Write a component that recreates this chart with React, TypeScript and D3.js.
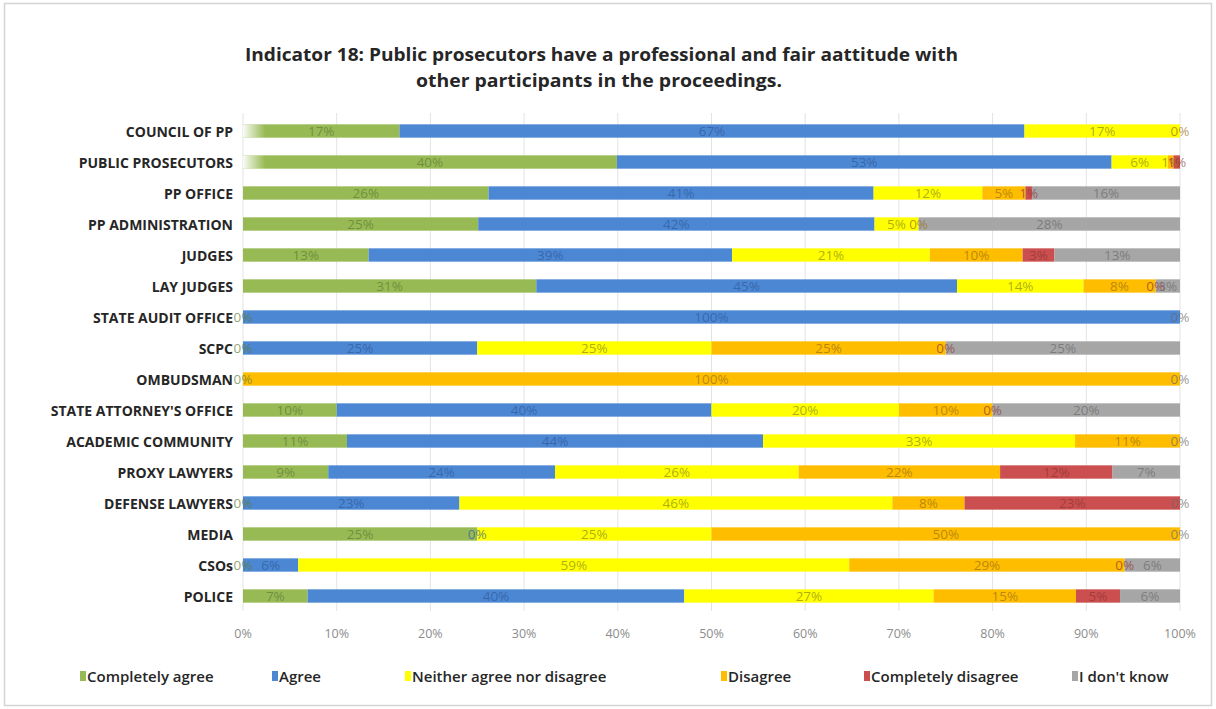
import React, { useEffect } from "react";
import * as d3 from "d3";

const categories = [
  "COUNCIL OF PP",
  "PUBLIC PROSECUTORS",
  "PP OFFICE",
  "PP ADMINISTRATION",
  "JUDGES",
  "LAY JUDGES",
  "STATE AUDIT OFFICE",
  "SCPC",
  "OMBUDSMAN",
  "STATE ATTORNEY'S OFFICE",
  "ACADEMIC COMMUNITY",
  "PROXY LAWYERS",
  "DEFENSE LAWYERS",
  "MEDIA",
  "CSOs",
  "POLICE",
];

const seriesNames = [
  "Completely agree",
  "Agree",
  "Neither agree nor disagree",
  "Disagree",
  "Completely disagree",
  "I don't know",
];

const completelyAgree = [16.7, 39.9, 26.2, 25.1, 13.4, 31.3, 0, 0, 0, 10, 11.1, 9.1, 0, 25, 0, 6.9];
const agree = [66.7, 52.8, 41.1, 42.3, 38.8, 44.9, 100, 25, null, 40, 44.4, 24.2, 23.1, 0, 5.9, 40.2];
const neither = [16.6, 6.0, 11.6, 4.7, 21.1, 13.5, null, 25, null, 20, 33.3, 26.0, 46.2, 25, 58.8, 26.6];
const disagree = [0, 0.6, 4.6, 0, 9.9, 7.7, null, 25, 100, 10, 11.2, 21.5, 7.7, 50, 29.4, 15.2];
const completelyDisagree = [null, 0.7, 0.7, null, 3.4, 0, null, 0, null, 0, null, 12.0, 23.0, null, 0, 4.7];
const dontKnow = [null, null, 15.8, 27.9, 13.4, 2.6, 0, 25, 0, 20, 0, 7.2, 0, 0, 5.9, 6.4];

const ticks = [0, 10, 20, 30, 40, 50, 60, 70, 80, 90, 100];

const titleLines = [
  "Indicator 18: Public prosecutors have a professional and fair aattitude with",
  "other participants in the proceedings.",
];

const colors = ["#98BA55", "#4C87D4", "#FFFF00", "#FFBD00", "#CB4F4F", "#A6A6A6"];
const labelColors = ["#5E7A33", "#2F5A97", "#8A8A1E", "#9A6F10", "#8E3434", "#6A6A6A"];

const allSeries = [completelyAgree, agree, neither, disagree, completelyDisagree, dontKnow];

const legendX = [80, 272, 405, 721, 864, 1072];

export default function App() {
  useEffect(() => {
    document.body.style.margin = "0";
  }, []);

  const W = 1216;
  const H = 709;
  const x = d3.scaleLinear().domain([0, 100]).range([243, 1180]);
  const y = d3
    .scaleBand<string>()
    .domain(categories)
    .range([115.5, 611.5])
    .paddingInner(0.57)
    .paddingOuter(0.285);

  const rows = categories.map((c, i) => {
    let acc = 0;
    return allSeries.map((s, k) => {
      const v = s[i];
      const x0 = acc;
      acc += v ?? 0;
      return { cat: c, k, v, x0, x1: acc };
    });
  });

  const font = "'Open Sans', Lato, sans-serif";

  return (
    <svg width={W} height={H} style={{ display: "block", background: "#fff" }}>
      <defs>
        <linearGradient id="fade" x1="0" x2="1" y1="0" y2="0">
          <stop offset="0" stopColor="#fff" stopOpacity="0.95" />
          <stop offset="1" stopColor="#fff" stopOpacity="0" />
        </linearGradient>
      </defs>
      <rect x={4.5} y={3.5} width={1207} height={702} fill="#fff" stroke="#d4d4d4" strokeWidth={1.5} />
      {titleLines.map((t, i) => (
        <text
          key={i}
          x={i === 0 ? 601.5 : 599}
          y={54 + i * 26}
          textAnchor="middle"
          dominantBaseline="central"
          fontFamily={font}
          fontWeight={700}
          fontSize={17.5}
          fill="#262626"
          textLength={i === 0 ? 713 : 366}
          lengthAdjust="spacingAndGlyphs"
        >
          {t}
        </text>
      ))}
      {ticks.map((t) => (
        <line key={t} x1={x(t)} x2={x(t)} y1={113} y2={611} stroke="#e3e3e3" strokeWidth={1} />
      ))}
      {rows.map((r) =>
        r.map((seg) =>
          seg.v != null && seg.v > 0 ? (
            <rect
              key={seg.cat + seg.k}
              x={x(seg.x0)}
              y={y(seg.cat)}
              width={x(seg.x1) - x(seg.x0)}
              height={y.bandwidth()}
              fill={colors[seg.k]}
            />
          ) : null
        )
      )}
      {categories.slice(0, 2).map((c) => (
        <rect key={"f" + c} x={x(0)} y={y(c)} width={22} height={y.bandwidth()} fill="url(#fade)" />
      ))}
      {rows.map((r) =>
        r.map((seg) =>
          seg.v != null ? (
            <text
              key={"l" + seg.cat + seg.k}
              x={x((seg.x0 + seg.x1) / 2)}
              y={(y(seg.cat) as number) + y.bandwidth() / 2}
              textAnchor="middle"
              dominantBaseline="central"
              fontFamily={font}
              fontSize={13.5}
              fill={labelColors[seg.k]}
              fillOpacity={0.7}
            >
              {Math.round(seg.v) + "%"}
            </text>
          ) : null
        )
      )}
      {categories.map((c) => (
        <text
          key={"c" + c}
          x={233}
          y={(y(c) as number) + y.bandwidth() / 2}
          textAnchor="end"
          dominantBaseline="central"
          fontFamily={font}
          fontWeight={700}
          fontSize={14}
          fill="#262626"
        >
          {c}
        </text>
      ))}
      {ticks.map((t) => (
        <text
          key={"t" + t}
          x={x(t)}
          y={633}
          textAnchor="middle"
          dominantBaseline="central"
          fontFamily={font}
          fontSize={12.5}
          fill="#8c8c8c"
        >
          {t + "%"}
        </text>
      ))}
      {seriesNames.map((n, k) => (
        <g key={"lg" + n}>
          <rect x={legendX[k]} y={671} width={6} height={10} fill={colors[k]} />
          <text
            x={legendX[k] + 7}
            y={676}
            dominantBaseline="central"
            fontFamily={font}
            fontWeight={600}
            fontSize={15}
            fill="#262626"
          >
            {n}
          </text>
        </g>
      ))}
    </svg>
  );
}
